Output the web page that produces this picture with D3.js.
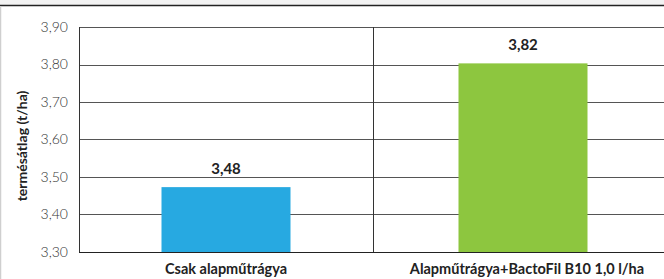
<!DOCTYPE html>
<html>
  <head>
    <meta charset="utf-8" />
    <script src="https://d3js.org/d3.v7.min.js"></script>
    <style>
      body { margin: 0; background: #fff; }
      text { font-family: Lato, "Open Sans", sans-serif; }
    </style>
  </head>
  <body>
    <div id="my_dataviz"></div>
    <script>
      // data
      var categories = ["Csak alapműtrágya", "Alapműtrágya+BactoFil B10 1,0 l/ha"];
      var values = [3.473, 3.803];
      var valueLabels = ["3,48", "3,82"];
      var yTicks = [3.3, 3.4, 3.5, 3.6, 3.7, 3.8, 3.9];
      var colors = ["#27a9e1", "#8dc63f"];

      var W = 664, H = 279;
      var margin = { top: 27, right: -3, bottom: 27, left: 79 },
        width = W - margin.left - margin.right,
        height = H - margin.top - margin.bottom;

      var root = d3.select("#my_dataviz").append("svg")
        .attr("width", W).attr("height", H);

      // frame bits
      root.append("rect").attr("x", 0).attr("y", 0).attr("width", W).attr("height", 5).attr("fill", "#f2f2f2");
      root.append("line").attr("x1", 0).attr("x2", W).attr("y1", 5.5).attr("y2", 5.5)
        .attr("stroke", "#222").attr("stroke-width", 1.5);
      root.append("line").attr("x1", 0.5).attr("x2", 0.5).attr("y1", 6).attr("y2", H)
        .attr("stroke", "#cfcfcf").attr("stroke-width", 1.5);

      var svg = root.append("g")
        .attr("transform", "translate(" + margin.left + "," + margin.top + ")");

      var x = d3.scaleBand().range([0, width]).domain(categories).padding(0);
      var y = d3.scaleLinear().range([height, 0]).domain([3.3, 3.9]);

      // horizontal grid
      svg.append("g")
        .selectAll("line")
        .data(yTicks)
        .enter()
        .append("line")
        .attr("x1", 0).attr("x2", width)
        .attr("y1", function (d) { return Math.round(y(d)) + 0.5; })
        .attr("y2", function (d) { return Math.round(y(d)) + 0.5; })
        .attr("stroke", function (d, i) { return i === 0 ? "#222" : "#555"; })
        .attr("stroke-width", 1);

      // category separators
      svg.append("g")
        .selectAll("line")
        .data(categories)
        .enter()
        .append("line")
        .attr("x1", function (d) { return Math.round(x(d)) + 0.5; })
        .attr("x2", function (d) { return Math.round(x(d)) + 0.5; })
        .attr("y1", y(3.9)).attr("y2", height)
        .attr("stroke", "#333").attr("stroke-width", 1);

      // y axis labels
      svg.append("g")
        .style("font-size", "14px")
        .call(d3.axisLeft(y).tickValues(yTicks).tickSize(0).tickPadding(11)
          .tickFormat(function (d) { return d3.format(".2f")(d).replace(".", ","); }))
        .call(function (g) { g.select(".domain").remove(); })
        .selectAll("text")
        .attr("fill", "#333")
        .style("font-family", "Lato, sans-serif")
        .style("font-weight", 300);

      // bars (second one sits slightly right of its band centre in the source)
      var barW = 129;
      var shift = [0, 3];
      svg.selectAll(".bar")
        .data(values)
        .enter()
        .append("rect")
        .attr("x", function (d, i) { return x(categories[i]) + x.bandwidth() / 2 - barW / 2 + shift[i]; })
        .attr("y", function (d) { return y(d); })
        .attr("width", barW)
        .attr("height", function (d) { return height - y(d); })
        .attr("fill", function (d, i) { return colors[i]; });

      // value labels
      svg.selectAll(".val")
        .data(values)
        .enter()
        .append("text")
        .attr("x", function (d, i) { return x(categories[i]) + x.bandwidth() / 2 + shift[i]; })
        .attr("y", function (d) { return y(d) - 13; })
        .attr("text-anchor", "middle")
        .style("font-size", "15px")
        .style("font-weight", 700)
        .attr("fill", "#222")
        .text(function (d, i) { return valueLabels[i]; });

      // x labels
      svg.selectAll(".cat")
        .data(categories)
        .enter()
        .append("text")
        .attr("x", function (d, i) { return x(d) + x.bandwidth() / 2 + shift[i] + (i ? 4 : 0); })
        .attr("y", height + 22)
        .attr("text-anchor", "middle")
        .style("font-size", "14.5px")
        .style("font-weight", 700)
        .attr("fill", "#222")
        .text(function (d) { return d; });

      // y title
      root.append("text")
        .attr("transform", "translate(27,146) rotate(-90)")
        .attr("text-anchor", "middle")
        .style("font-size", "14px")
        .style("font-weight", 700)
        .attr("fill", "#222")
        .text("termésátlag (t/ha)");
    </script>
  </body>
</html>
